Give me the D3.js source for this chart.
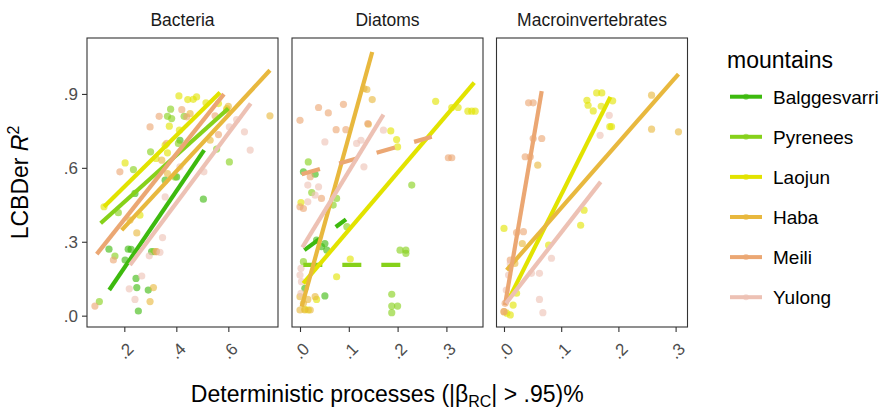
<!DOCTYPE html>
<html>
<head>
<meta charset="utf-8">
<script src="https://cdn.jsdelivr.net/npm/d3@7"></script>
<style>
  body { margin: 0; background: #fff; }
  svg { font-family: "Liberation Sans", Arial, Helvetica, sans-serif; }
</style>
</head>
<body>
<svg id="chart" width="889" height="409"></svg>
<script>
// ---- data ----
const PANELS = ["Bacteria", "Diatoms", "Macroinvertebrates"];
const MOUNTAINS = ["Balggesvarri", "Pyrenees", "Laojun", "Haba", "Meili", "Yulong"];
const X_TICKS = [[0.2, 0.4, 0.6], [0, 0.1, 0.2, 0.3], [0, 0.1, 0.2, 0.3]];
const Y_TICKS = [0, 0.3, 0.6, 0.9];

// [mountain, deterministic %, LCBDer R2]
const bacteriaPoints = [
  ["Balggesvarri", 0.141, 0.270], ["Balggesvarri", 0.215, 0.270], ["Balggesvarri", 0.226, 0.269],
  ["Balggesvarri", 0.203, 0.226], ["Balggesvarri", 0.245, 0.151], ["Balggesvarri", 0.248, 0.114],
  ["Balggesvarri", 0.292, 0.104], ["Balggesvarri", 0.254, 0.019], ["Balggesvarri", 0.504, 0.473],
  ["Balggesvarri", 0.401, 0.563], ["Balggesvarri", 0.414, 0.712], ["Balggesvarri", 0.357, 0.550],
  ["Balggesvarri", 0.241, 0.496], ["Balggesvarri", 0.305, 0.260],
  ["Pyrenees", 0.378, 0.838], ["Pyrenees", 0.366, 0.809], ["Pyrenees", 0.382, 0.800],
  ["Pyrenees", 0.301, 0.665], ["Pyrenees", 0.235, 0.593], ["Pyrenees", 0.408, 0.699],
  ["Pyrenees", 0.430, 0.809], ["Pyrenees", 0.555, 0.676], ["Pyrenees", 0.604, 0.624],
  ["Pyrenees", 0.104, 0.057], ["Pyrenees", 0.164, 0.242], ["Pyrenees", 0.177, 0.418],
  ["Pyrenees", 0.395, 0.563], ["Pyrenees", 0.314, 0.260],
  ["Laojun", 0.410, 0.892], ["Laojun", 0.444, 0.877], ["Laojun", 0.465, 0.878],
  ["Laojun", 0.478, 0.888], ["Laojun", 0.514, 0.864], ["Laojun", 0.373, 0.769],
  ["Laojun", 0.412, 0.753], ["Laojun", 0.203, 0.620], ["Laojun", 0.357, 0.692],
  ["Laojun", 0.366, 0.661], ["Laojun", 0.322, 0.638], ["Laojun", 0.260, 0.408],
  ["Laojun", 0.122, 0.442], ["Laojun", 0.562, 0.861], ["Laojun", 0.594, 0.840],
  ["Haba", 0.248, 0.336], ["Haba", 0.312, 0.114], ["Haba", 0.299, 0.057],
  ["Haba", 0.600, 0.850], ["Haba", 0.760, 0.811], ["Haba", 0.344, 0.631],
  ["Haba", 0.366, 0.577], ["Haba", 0.324, 0.260], ["Haba", 0.594, 0.834],
  ["Haba", 0.453, 0.820], ["Haba", 0.530, 0.712], ["Haba", 0.222, 0.388],
  ["Meili", 0.334, 0.809], ["Meili", 0.299, 0.766], ["Meili", 0.421, 0.836],
  ["Meili", 0.183, 0.584], ["Meili", 0.158, 0.226], ["Meili", 0.087, 0.039],
  ["Meili", 0.322, 0.260], ["Meili", 0.562, 0.735], ["Meili", 0.549, 0.811],
  ["Meili", 0.440, 0.807], ["Meili", 0.363, 0.699],
  ["Yulong", 0.267, 0.161], ["Yulong", 0.219, 0.109], ["Yulong", 0.241, 0.066],
  ["Yulong", 0.337, 0.257], ["Yulong", 0.296, 0.243], ["Yulong", 0.347, 0.317],
  ["Yulong", 0.357, 0.482], ["Yulong", 0.662, 0.746], ["Yulong", 0.684, 0.672],
  ["Yulong", 0.632, 0.796], ["Yulong", 0.506, 0.584], ["Yulong", 0.604, 0.766],
  ["Yulong", 0.414, 0.604]
];

const diatomsPoints = [
  ["Balggesvarri", 0.007, 0.584], ["Balggesvarri", 0.031, 0.574], ["Balggesvarri", 0.051, 0.080],
  ["Balggesvarri", 0.044, 0.280], ["Balggesvarri", 0.051, 0.293], ["Balggesvarri", 0.010, 0.111],
  ["Balggesvarri", 0.034, 0.307], ["Balggesvarri", 0.055, 0.266],
  ["Pyrenees", 0.017, 0.624], ["Pyrenees", 0.024, 0.500], ["Pyrenees", 0.075, 0.476],
  ["Pyrenees", 0.068, 0.449], ["Pyrenees", 0.096, 0.361], ["Pyrenees", 0.205, 0.266],
  ["Pyrenees", 0.217, 0.266], ["Pyrenees", 0.217, 0.253], ["Pyrenees", 0.188, 0.087],
  ["Pyrenees", 0.188, 0.039], ["Pyrenees", 0.200, 0.039], ["Pyrenees", 0.188, 0.012],
  ["Pyrenees", 0.229, 0.530], ["Pyrenees", 0.007, 0.219],
  ["Laojun", 0.278, 0.870], ["Laojun", 0.311, 0.845], ["Laojun", 0.324, 0.845],
  ["Laojun", 0.344, 0.830], ["Laojun", 0.352, 0.830], ["Laojun", 0.359, 0.830],
  ["Laojun", 0.186, 0.750], ["Laojun", 0.198, 0.715], ["Laojun", 0.200, 0.685],
  ["Laojun", 0.103, 0.230], ["Laojun", 0.075, 0.158], ["Laojun", 0.002, 0.459],
  ["Laojun", 0.034, 0.066], ["Laojun", 0.017, 0.023], ["Laojun", 0.010, 0.026],
  ["Haba", 0.137, 0.918], ["Haba", 0.131, 0.922], ["Haba", 0.148, 0.877],
  ["Haba", 0.140, 0.777], ["Haba", 0.000, 0.077], ["Haba", 0.007, 0.050],
  ["Haba", 0.010, 0.023], ["Haba", 0.021, 0.023], ["Haba", 0.000, 0.023],
  ["Haba", 0.016, 0.066], ["Haba", 0.031, 0.077],
  ["Meili", 0.000, 0.793], ["Meili", 0.038, 0.845], ["Meili", 0.058, 0.823],
  ["Meili", 0.089, 0.858], ["Meili", 0.074, 0.755], ["Meili", 0.094, 0.755],
  ["Meili", 0.139, 0.780], ["Meili", 0.000, 0.442], ["Meili", 0.007, 0.435],
  ["Meili", 0.044, 0.476], ["Meili", 0.304, 0.641], ["Meili", 0.311, 0.641],
  ["Meili", 0.021, 0.564],
  ["Yulong", 0.051, 0.705], ["Yulong", 0.116, 0.699], ["Yulong", 0.125, 0.712],
  ["Yulong", 0.131, 0.604], ["Yulong", 0.171, 0.753], ["Yulong", 0.016, 0.530],
  ["Yulong", 0.038, 0.523], ["Yulong", 0.031, 0.489], ["Yulong", 0.016, 0.462],
  ["Yulong", 0.002, 0.192], ["Yulong", 0.000, 0.165], ["Yulong", 0.003, 0.138],
  ["Yulong", 0.002, 0.091]
];

const macroPoints = [
  ["Laojun", 0.162, 0.904], ["Laojun", 0.171, 0.904], ["Laojun", 0.145, 0.874],
  ["Laojun", 0.147, 0.854], ["Laojun", 0.156, 0.831], ["Laojun", 0.170, 0.850],
  ["Laojun", 0.190, 0.872], ["Laojun", 0.185, 0.767], ["Laojun", 0.188, 0.767],
  ["Laojun", 0.140, 0.428], ["Laojun", 0.134, 0.367], ["Laojun", 0.000, 0.354],
  ["Laojun", 0.078, 0.286], ["Laojun", 0.016, 0.043], ["Laojun", 0.011, 0.003],
  ["Laojun", 0.005, 0.010], ["Laojun", 0.022, 0.091],
  ["Haba", 0.258, 0.895], ["Haba", 0.258, 0.757], ["Haba", 0.305, 0.746],
  ["Haba", 0.059, 0.611], ["Haba", 0.032, 0.293], ["Haba", 0.000, 0.016],
  ["Haba", 0.019, 0.212],
  ["Meili", 0.043, 0.864], ["Meili", 0.051, 0.864], ["Meili", 0.051, 0.719],
  ["Meili", 0.066, 0.719], ["Meili", 0.037, 0.645], ["Meili", 0.046, 0.645],
  ["Meili", 0.022, 0.337], ["Meili", 0.034, 0.341], ["Meili", 0.011, 0.226],
  ["Meili", 0.002, 0.050], ["Meili", 0.000, 0.016],
  ["Yulong", 0.168, 0.732], ["Yulong", 0.184, 0.813], ["Yulong", 0.083, 0.233],
  ["Yulong", 0.062, 0.172], ["Yulong", 0.048, 0.172], ["Yulong", 0.062, 0.066],
  ["Yulong", 0.068, 0.012], ["Yulong", 0.008, 0.165], ["Yulong", 0.004, 0.104],
  ["Yulong", 0.011, 0.212]
];

// lm fits: [panel, mountain, x start, y start, x end, y end, non-significant (dashed)]
const fitLines = [
  ["Bacteria", "Balggesvarri", 0.142, 0.104, 0.507, 0.672, false],
  ["Bacteria", "Pyrenees", 0.109, 0.375, 0.600, 0.841, false],
  ["Bacteria", "Laojun", 0.122, 0.442, 0.568, 0.906, false],
  ["Bacteria", "Haba", 0.190, 0.347, 0.760, 0.996, false],
  ["Bacteria", "Meili", 0.094, 0.250, 0.583, 0.899, false],
  ["Bacteria", "Yulong", 0.222, 0.206, 0.686, 0.861, false],
  ["Diatoms", "Balggesvarri", 0.0089, 0.266, 0.0943, 0.391, true],
  ["Diatoms", "Pyrenees", 0.0068, 0.206, 0.208, 0.206, true],
  ["Diatoms", "Laojun", 0.0068, 0.131, 0.357, 0.946, false],
  ["Diatoms", "Haba", 0.0034, 0.036, 0.148, 1.070, false],
  ["Diatoms", "Meili", 0.0034, 0.574, 0.270, 0.726, true],
  ["Diatoms", "Yulong", 0.0048, 0.277, 0.171, 0.816, false],
  ["Macroinvertebrates", "Laojun", 0.0076, 0.064, 0.186, 0.888, false],
  ["Macroinvertebrates", "Haba", 0.0047, 0.185, 0.305, 0.980, false],
  ["Macroinvertebrates", "Meili", 0.0017, 0.043, 0.0659, 0.911, false],
  ["Macroinvertebrates", "Yulong", 0.0035, 0.050, 0.169, 0.543, false]
];

// ---- layout / style constants ----
const COLORS = ["#3dba0e", "#86d11a", "#e2e300", "#e8b83e", "#eba773", "#edc1b4"];
const PANEL_LEFT = [87, 292, 496.5];
const PANEL_WIDTH = 191;
const PANEL_TOP = 38;
const PANEL_BOTTOM = 327;
const X_DOMAINS = [[0.0565, 0.791], [-0.0164, 0.375], [-0.0131, 0.3208]];
const Y_DOMAIN = [-0.046, 1.127];
const TICK_LEN = 5;

const color = d3.scaleOrdinal().domain(MOUNTAINS).range(COLORS);
const fmt = v => d3.format(".1f")(v).replace(/^0/, "");

setup();

function setup () {
  const svg = d3.select("#chart");
  svg.append("rect").attr("width", 889).attr("height", 409).attr("fill", "#fff");

  const yScale = d3.scaleLinear().domain(Y_DOMAIN).range([PANEL_BOTTOM, PANEL_TOP]);
  const pointSets = [bacteriaPoints, diatomsPoints, macroPoints];

  PANELS.forEach((name, i) => {
    const xScale = d3.scaleLinear()
      .domain(X_DOMAINS[i])
      .range([PANEL_LEFT[i], PANEL_LEFT[i] + PANEL_WIDTH]);
    drawPanel(svg, name, i, xScale, yScale, pointSets[i]);
  });

  // y axis only on the first panel
  const yAxis = svg.append("g")
    .attr("transform", `translate(${PANEL_LEFT[0]},0)`)
    .call(d3.axisLeft(yScale).tickValues(Y_TICKS).tickFormat(fmt).tickSize(TICK_LEN).tickPadding(4));
  styleAxis(yAxis);

  // axis titles
  svg.append("text")
    .attr("x", (PANEL_LEFT[0] + PANEL_LEFT[2] + PANEL_WIDTH) / 2)
    .attr("y", 402)
    .attr("text-anchor", "middle")
    .attr("font-size", 23)
    .attr("fill", "#000")
    .call(t => {
      t.append("tspan").text("Deterministic processes (|β");
      t.append("tspan").attr("font-size", 16).attr("dy", 5).text("RC");
      t.append("tspan").attr("dy", -5).text("| > .95)%");
    });

  svg.append("text")
    .attr("transform", `translate(28,${(PANEL_TOP + PANEL_BOTTOM) / 2}) rotate(-90)`)
    .attr("text-anchor", "middle")
    .attr("font-size", 23)
    .attr("fill", "#000")
    .call(t => {
      t.append("tspan").text("LCBDer ");
      t.append("tspan").attr("font-style", "italic").text("R");
      t.append("tspan").attr("font-size", 16).attr("dy", -9).text("2");
    });

  drawLegend(svg);
}

function drawPanel (svg, name, i, xScale, yScale, points) {
  const g = svg.append("g").attr("class", "panel");

  // strip label
  g.append("text")
    .attr("x", PANEL_LEFT[i] + PANEL_WIDTH / 2)
    .attr("y", 26)
    .attr("text-anchor", "middle")
    .attr("font-size", 17.5)
    .attr("fill", "#1a1a1a")
    .text(name);

  g.selectAll("circle")
    .data(points)
    .join("circle")
    .attr("cx", d => xScale(d[1]))
    .attr("cy", d => yScale(d[2]))
    .attr("r", 3.6)
    .attr("fill", d => color(d[0]))
    .attr("fill-opacity", 0.62);

  const line = d3.line().x(d => xScale(d[0])).y(d => yScale(d[1]));
  g.selectAll("path.fit")
    .data(fitLines.filter(d => d[0] === name))
    .join("path")
    .attr("class", "fit")
    .attr("d", d => line([[d[2], d[3]], [d[4], d[5]]]))
    .attr("fill", "none")
    .attr("stroke", d => color(d[1]))
    .attr("stroke-width", 4.2)
    .attr("stroke-dasharray", d => d[6] ? "19,20" : null);

  // panel border
  g.append("rect")
    .attr("x", PANEL_LEFT[i])
    .attr("y", PANEL_TOP)
    .attr("width", PANEL_WIDTH)
    .attr("height", PANEL_BOTTOM - PANEL_TOP)
    .attr("fill", "none")
    .attr("stroke", "#333")
    .attr("stroke-width", 1.1);

  const xAxis = svg.append("g")
    .attr("transform", `translate(0,${PANEL_BOTTOM})`)
    .call(d3.axisBottom(xScale).tickValues(X_TICKS[i]).tickFormat(fmt).tickSize(TICK_LEN));
  styleAxis(xAxis);
  xAxis.selectAll(".tick text")
    .attr("x", 0)
    .attr("y", 0)
    .attr("dy", null)
    .attr("text-anchor", "end")
    .attr("transform", "translate(10,23) rotate(-45)");
}

function styleAxis (axis) {
  axis.select(".domain").remove();
  axis.selectAll(".tick line").attr("stroke", "#333").attr("stroke-width", 1.1);
  axis.selectAll(".tick text")
    .attr("fill", "#4d4d4d")
    .attr("font-size", 17)
    .attr("font-family", "'Liberation Sans', Arial, Helvetica, sans-serif");
}

function drawLegend (svg) {
  const lg = svg.append("g").attr("class", "legend");
  lg.append("text")
    .attr("x", 727)
    .attr("y", 68)
    .attr("font-size", 23)
    .attr("fill", "#000")
    .text("mountains");

  const item = lg.selectAll("g.item")
    .data(MOUNTAINS)
    .join("g")
    .attr("class", "item")
    .attr("transform", (d, i) => `translate(0,${96.7 + i * 40.1})`);

  item.append("line")
    .attr("x1", 730).attr("x2", 762)
    .attr("stroke", d => color(d))
    .attr("stroke-width", 4);
  item.append("circle")
    .attr("cx", 746).attr("r", 3)
    .attr("fill", d => color(d))
    .attr("fill-opacity", 0.6);
  item.append("text")
    .attr("x", 773)
    .attr("y", 7)
    .attr("font-size", 19)
    .attr("fill", "#000")
    .text(d => d);
}
</script>
</body>
</html>
